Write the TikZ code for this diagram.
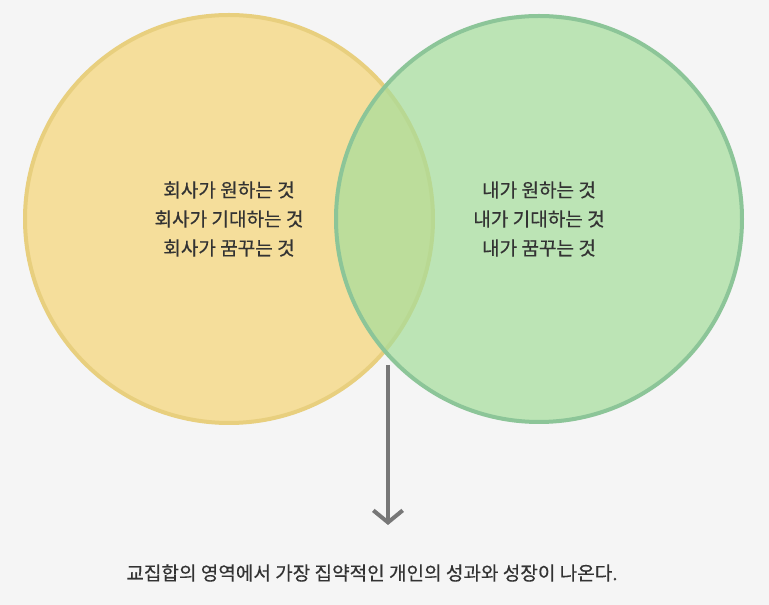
\documentclass[tikz,border=0pt]{standalone}
\usepackage{fontspec}
\setmainfont[UprightFeatures={FakeBold=0.4}]{Noto Sans CJK KR}
\usetikzlibrary{arrows.meta}
\definecolor{bg}{HTML}{F5F5F5}
\definecolor{yfill}{HTML}{F5DE9B}
\definecolor{yline}{HTML}{E8CF7E}
\definecolor{gfill}{HTML}{A5DD9B}
\definecolor{gline}{HTML}{8CC598}
\definecolor{txt}{HTML}{333333}
\definecolor{arr}{HTML}{777777}
\tikzset{lbl/.style={font=\fontsize{14.3pt}{21.8pt}\selectfont, text=txt, align=center}}
\begin{document}
\begin{tikzpicture}[x=0.75pt,y=-0.75pt]
\fill[bg] (0,0) rectangle (769,605);
\useasboundingbox (0,0) rectangle (769,605);
\node[circle, minimum size=408*0.75pt, fill=yfill, draw=yline, line width=3pt] (a) at (229,219) {};
\node[circle, minimum size=406*0.75pt, fill=gfill, fill opacity=0.7, draw=gline, draw opacity=1, line width=3pt] (b) at (539,219) {};
\node[lbl] (ta) at (229,219) {회사가 원하는 것\\회사가 기대하는 것\\회사가 꿈꾸는 것};
\node[lbl] (tb) at (539,219) {내가 원하는 것\\내가 기대하는 것\\내가 꿈꾸는 것};
\coordinate (s) at (388,365);
\coordinate (e) at (388,525);
\draw[arr, line width=3pt, -{Straight Barb[length=9pt,width=22pt,line width=3pt]}] (s) -- (e);
\node[lbl] (bot) at (372,573) {교집합의 영역에서 가장 집약적인 개인의 성과와 성장이 나온다.};
\end{tikzpicture}
\end{document}
